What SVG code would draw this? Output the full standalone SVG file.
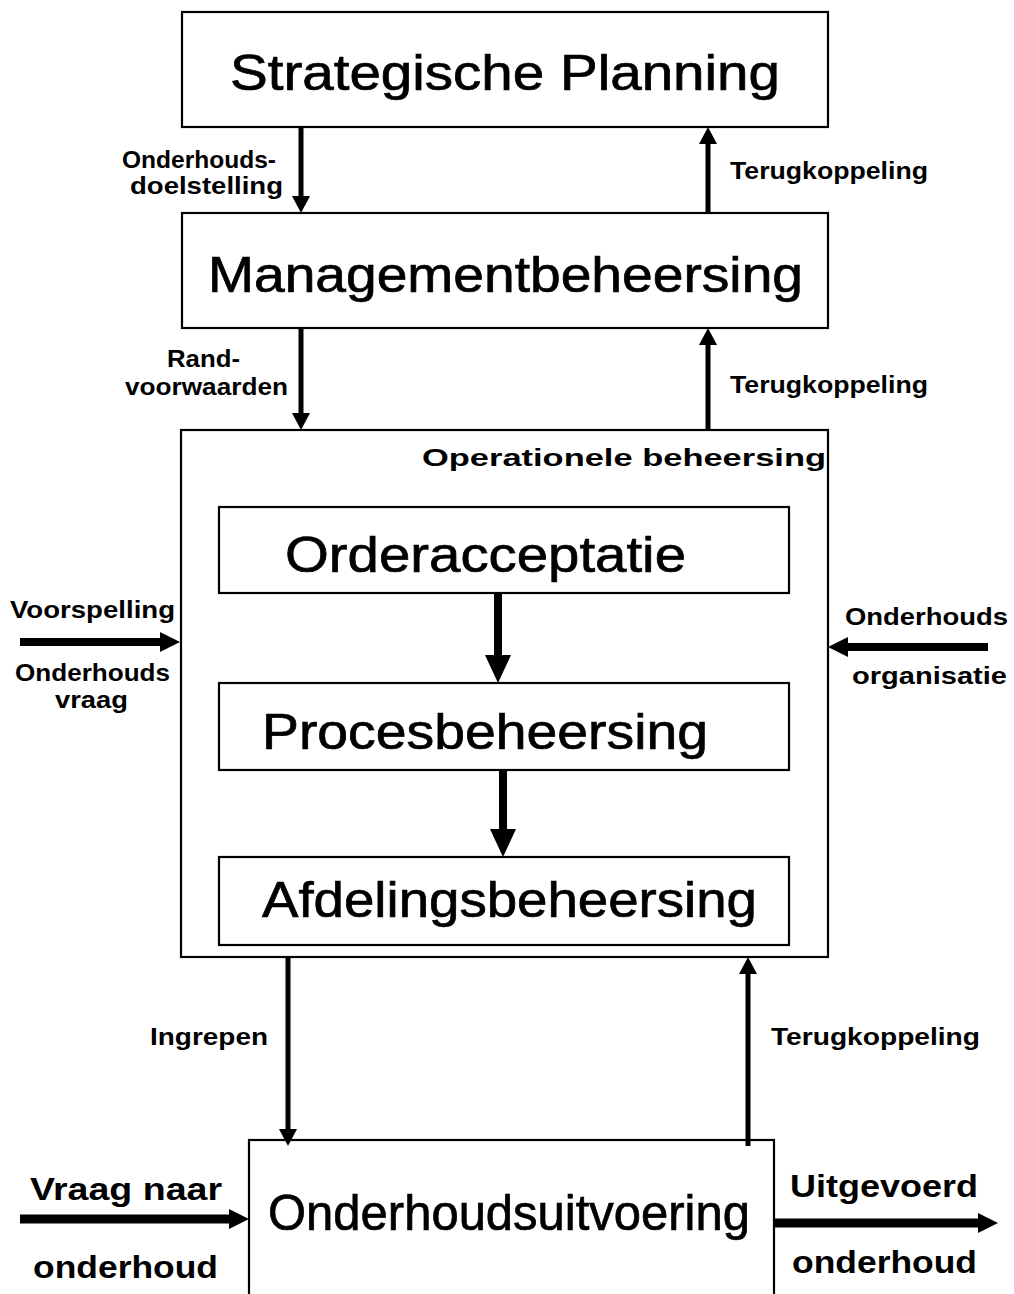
<svg xmlns="http://www.w3.org/2000/svg" width="1014" height="1294" viewBox="0 0 1014 1294">
  <style>
    .box { fill: #fff; stroke: #000; stroke-width: 2.2; }
    .frame { fill: none; stroke: #000; stroke-width: 2.2; }
    .title { font-family: "Liberation Sans", Arial, sans-serif; font-size: 50px; fill: #000; stroke: #000; stroke-width: 0.7; }
    .lbl { font-family: "Liberation Sans", Arial, sans-serif; font-weight: bold; font-size: 23px; fill: #000; }
    .lbl-lg { font-family: "Liberation Sans", Arial, sans-serif; font-weight: bold; font-size: 31px; fill: #000; }
    .shaft { stroke: #000; fill: none; }
  </style>
  <defs>
    <marker id="arr-s" viewBox="0 0 17 18" refX="1" refY="9" markerWidth="17" markerHeight="18" markerUnits="userSpaceOnUse" orient="auto">
      <path d="M0,0 L17,9 L0,18 Z" fill="#000"/>
    </marker>
    <marker id="arr-m" viewBox="0 0 20 20" refX="1" refY="10" markerWidth="20" markerHeight="20" markerUnits="userSpaceOnUse" orient="auto">
      <path d="M0,0 L20,10 L0,20 Z" fill="#000"/>
    </marker>
    <marker id="arr-l" viewBox="0 0 28 26" refX="1" refY="13" markerWidth="28" markerHeight="26" markerUnits="userSpaceOnUse" orient="auto">
      <path d="M0,0 L28,13 L0,26 Z" fill="#000"/>
    </marker>
  </defs>

  <rect width="1014" height="1294" fill="#fff"/>

  <g id="strategische-planning">
    <rect class="box" x="182" y="12" width="646" height="115"/>
    <text class="title" x="230" y="90" font-size="52" textLength="550" lengthAdjust="spacingAndGlyphs">Strategische Planning</text>
  </g>

  <g id="managementbeheersing">
    <rect class="box" x="182" y="213" width="646" height="115"/>
    <text class="title" x="208" y="292" font-size="52" textLength="595" lengthAdjust="spacingAndGlyphs">Managementbeheersing</text>
  </g>

  <g id="operationele-beheersing">
    <rect class="frame" x="181" y="430" width="647" height="527"/>
    <text class="lbl" x="422" y="466" font-size="26" textLength="404" lengthAdjust="spacingAndGlyphs">Operationele beheersing</text>
  </g>

  <g id="orderacceptatie">
    <rect class="box" x="219" y="507" width="570" height="86"/>
    <text class="title" x="285" y="572" textLength="401" lengthAdjust="spacingAndGlyphs">Orderacceptatie</text>
  </g>

  <g id="procesbeheersing">
    <rect class="box" x="219" y="683" width="570" height="87"/>
    <text class="title" x="262" y="749" textLength="446" lengthAdjust="spacingAndGlyphs">Procesbeheersing</text>
  </g>

  <g id="afdelingsbeheersing">
    <rect class="box" x="219" y="857" width="570" height="88"/>
    <text class="title" x="262" y="917" textLength="495" lengthAdjust="spacingAndGlyphs">Afdelingsbeheersing</text>
  </g>

  <g id="onderhoudsuitvoering">
    <rect class="box" x="249" y="1140" width="525" height="180"/>
    <text class="title" x="268" y="1230" font-size="46" textLength="482" lengthAdjust="spacingAndGlyphs">Onderhoudsuitvoering</text>
  </g>

  <!-- connectors, drawn over the boxes -->
  <g id="connectors">
    <!-- strategic level <-> management -->
    <line class="shaft" x1="301" y1="127" x2="301" y2="197" stroke-width="5" marker-end="url(#arr-s)"/>
    <line class="shaft" x1="708" y1="213" x2="708" y2="143" stroke-width="5" marker-end="url(#arr-s)"/>
    <!-- management <-> operational -->
    <line class="shaft" x1="301" y1="328" x2="301" y2="414" stroke-width="5" marker-end="url(#arr-s)"/>
    <line class="shaft" x1="708" y1="430" x2="708" y2="344" stroke-width="5" marker-end="url(#arr-s)"/>
    <!-- inside operational control -->
    <line class="shaft" x1="498" y1="593" x2="498" y2="656" stroke-width="8" marker-end="url(#arr-l)"/>
    <line class="shaft" x1="503" y1="770" x2="503" y2="830" stroke-width="8" marker-end="url(#arr-l)"/>
    <!-- side inputs -->
    <line class="shaft" x1="20" y1="642" x2="161" y2="642" stroke-width="8" marker-end="url(#arr-m)"/>
    <line class="shaft" x1="988" y1="647" x2="847" y2="647" stroke-width="8" marker-end="url(#arr-m)"/>
    <!-- operational <-> execution -->
    <line class="shaft" x1="288" y1="957" x2="288" y2="1130" stroke-width="5" marker-end="url(#arr-s)"/>
    <line class="shaft" x1="748" y1="1146" x2="748" y2="973" stroke-width="5" marker-end="url(#arr-s)"/>
    <!-- execution in/out -->
    <line class="shaft" x1="20" y1="1219" x2="230" y2="1219" stroke-width="9" marker-end="url(#arr-m)"/>
    <line class="shaft" x1="774" y1="1223" x2="979" y2="1223" stroke-width="9" marker-end="url(#arr-m)"/>
  </g>

  <!-- connector labels -->
  <g id="labels">
    <text class="lbl" x="122" y="168" textLength="154" lengthAdjust="spacingAndGlyphs">Onderhouds-</text>
    <text class="lbl" x="130" y="194" textLength="153" lengthAdjust="spacingAndGlyphs">doelstelling</text>
    <text class="lbl" x="730" y="179" textLength="198" lengthAdjust="spacingAndGlyphs">Terugkoppeling</text>
    <text class="lbl" x="167" y="367" textLength="73" lengthAdjust="spacingAndGlyphs">Rand-</text>
    <text class="lbl" x="125" y="395" textLength="163" lengthAdjust="spacingAndGlyphs">voorwaarden</text>
    <text class="lbl" x="730" y="393" textLength="198" lengthAdjust="spacingAndGlyphs">Terugkoppeling</text>
    <text class="lbl" x="10" y="618" textLength="165" lengthAdjust="spacingAndGlyphs">Voorspelling</text>
    <text class="lbl" x="15" y="681" textLength="155" lengthAdjust="spacingAndGlyphs">Onderhouds</text>
    <text class="lbl" x="55" y="708" textLength="73" lengthAdjust="spacingAndGlyphs">vraag</text>
    <text class="lbl" x="845" y="625" textLength="163" lengthAdjust="spacingAndGlyphs">Onderhouds</text>
    <text class="lbl" x="852" y="684" textLength="155" lengthAdjust="spacingAndGlyphs">organisatie</text>
    <text class="lbl" x="150" y="1045" textLength="118" lengthAdjust="spacingAndGlyphs">Ingrepen</text>
    <text class="lbl" x="771" y="1045" textLength="209" lengthAdjust="spacingAndGlyphs">Terugkoppeling</text>
    <text class="lbl-lg" x="30" y="1200" textLength="192" lengthAdjust="spacingAndGlyphs">Vraag naar</text>
    <text class="lbl-lg" x="33" y="1278" textLength="185" lengthAdjust="spacingAndGlyphs">onderhoud</text>
    <text class="lbl-lg" x="790" y="1197" textLength="188" lengthAdjust="spacingAndGlyphs">Uitgevoerd</text>
    <text class="lbl-lg" x="792" y="1273" textLength="185" lengthAdjust="spacingAndGlyphs">onderhoud</text>
  </g>
</svg>
